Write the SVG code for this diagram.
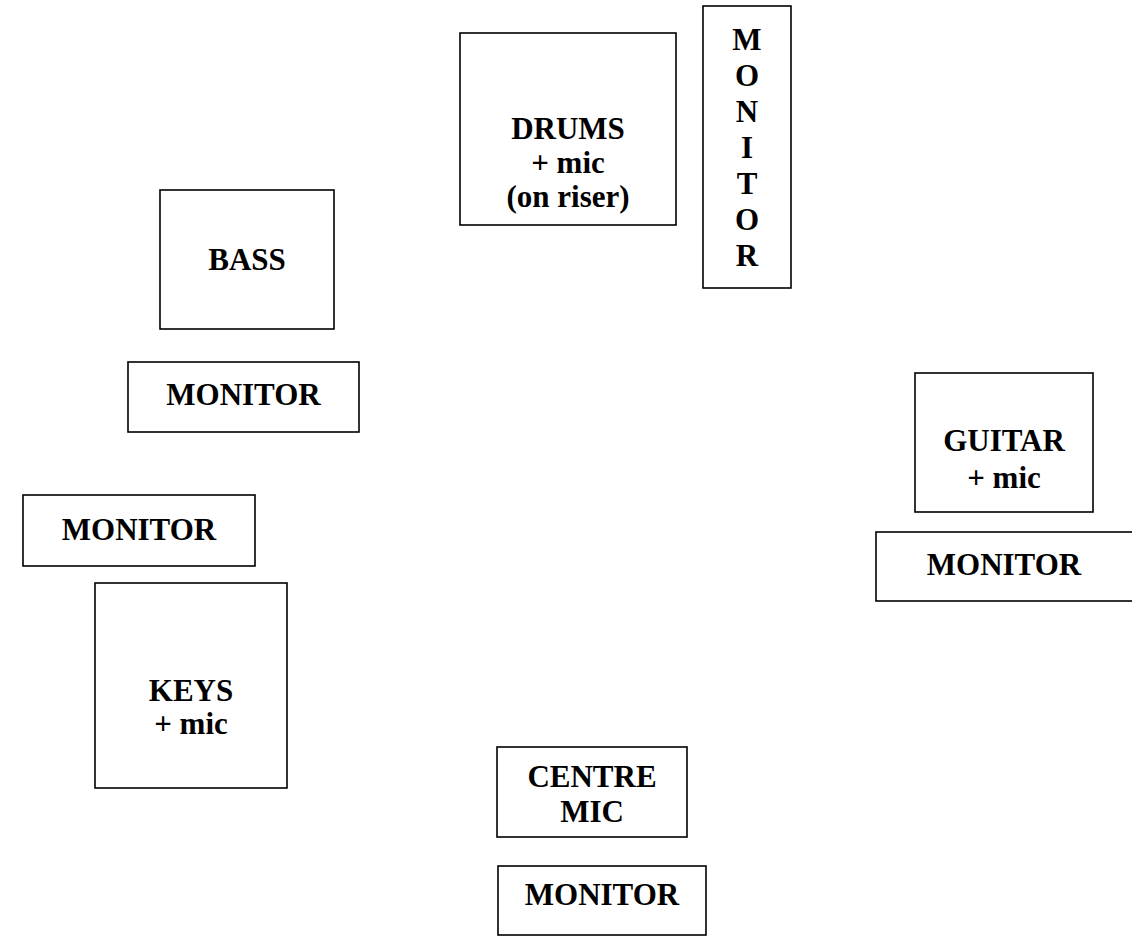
<svg xmlns="http://www.w3.org/2000/svg" width="1132" height="942" viewBox="0 0 1132 942">
<style>
.box{fill:#fff;stroke:#000;stroke-width:1.6}
.t{font-family:"Liberation Serif","Times New Roman",serif;font-weight:bold;font-size:31px;fill:#000;text-anchor:middle}
</style>
<rect width="1132" height="942" fill="#fff"/>
<g id="connectors"></g>
<g id="drums">
<rect class="box" x="460" y="33" width="216" height="192"/>
<text class="t" x="568" y="139">DRUMS</text>
<text class="t" x="568" y="173">+ mic</text>
<text class="t" x="568" y="207">(on riser)</text>
</g>
<g id="drum-monitor">
<rect class="box" x="703" y="6" width="88" height="282"/>
<text class="t" x="747" y="50">M</text>
<text class="t" x="747" y="86">O</text>
<text class="t" x="747" y="122">N</text>
<text class="t" x="747" y="158">I</text>
<text class="t" x="747" y="194">T</text>
<text class="t" x="747" y="230">O</text>
<text class="t" x="747" y="266">R</text>
</g>
<g id="bass">
<rect class="box" x="160" y="190" width="174" height="139"/>
<text class="t" x="247" y="270">BASS</text>
</g>
<g id="bass-monitor">
<rect class="box" x="128" y="362" width="231" height="70"/>
<text class="t" x="243.5" y="405">MONITOR</text>
</g>
<g id="keys-monitor">
<rect class="box" x="23" y="495" width="232" height="71"/>
<text class="t" x="139" y="540">MONITOR</text>
</g>
<g id="keys">
<rect class="box" x="95" y="583" width="192" height="205"/>
<text class="t" x="191" y="701">KEYS</text>
<text class="t" x="191" y="734">+ mic</text>
</g>
<g id="guitar">
<rect class="box" x="915" y="373" width="178" height="139"/>
<text class="t" x="1004" y="451">GUITAR</text>
<text class="t" x="1004" y="488">+ mic</text>
</g>
<g id="guitar-monitor">
<rect class="box" x="876" y="532" width="258" height="69"/>
<text class="t" x="1004" y="575">MONITOR</text>
</g>
<g id="centre-mic">
<rect class="box" x="497" y="747" width="190" height="90"/>
<text class="t" x="592" y="787">CENTRE</text>
<text class="t" x="592" y="822">MIC</text>
</g>
<g id="centre-monitor">
<rect class="box" x="498" y="866" width="208" height="69"/>
<text class="t" x="602" y="905">MONITOR</text>
</g>
</svg>
